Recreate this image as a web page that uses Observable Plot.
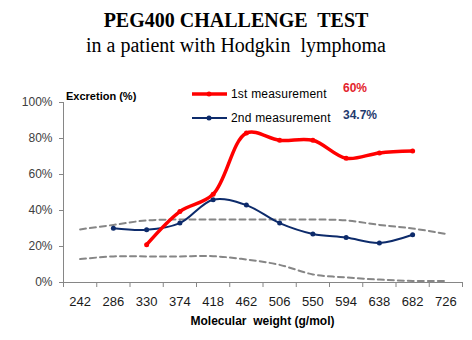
<!DOCTYPE html>
<html>
<head>
<meta charset="utf-8">
<script src="https://cdn.jsdelivr.net/npm/d3@7"></script>
<script src="https://cdn.jsdelivr.net/npm/@observablehq/plot@0.6"></script>
<style>
  html, body { margin: 0; padding: 0; background: #fff; }
  #wrap { position: relative; width: 472px; height: 340px; overflow: hidden; font-family: "Liberation Sans", Arial, sans-serif; }
  .title { position: absolute; left: 0; width: 472px; text-align: center; font-family: "Liberation Serif", "Times New Roman", serif; font-size: 20px; color: #000; white-space: pre; line-height: 24px; }
  .abs { position: absolute; white-space: pre; line-height: 14px; }
  #chart { position: absolute; left: 0; top: 60px; }
</style>
</head>
<body>
<div id="wrap">
  <div class="title" style="top:8px;font-weight:bold;">PEG400 CHALLENGE  TEST</div>
  <div class="title" style="top:33px;">in a patient with Hodgkin  lymphoma</div>
  <div id="chart"></div>
  <div class="abs" id="ylabel" style="left:66px;top:89px;font-size:11px;font-weight:bold;color:#000;"></div>
  <div class="abs" id="xlabel" style="left:63px;width:399px;text-align:center;top:314px;font-size:12px;font-weight:bold;color:#000;"></div>
  <svg class="abs" style="left:190px;top:86px;" width="40" height="40">
    <line x1="2" x2="37" y1="8" y2="8" stroke="#FF0000" stroke-width="3.5"/>
    <circle cx="19" cy="8" r="2.5" fill="#FF0000"/>
    <line x1="2" x2="37" y1="32" y2="32" stroke="#0D2B6B" stroke-width="2"/>
    <circle cx="19" cy="32" r="2.5" fill="#0D2B6B"/>
  </svg>
  <div class="abs" id="leg1" style="left:231px;top:87px;font-size:12px;color:#000;letter-spacing:0.2px;"></div>
  <div class="abs" id="leg2" style="left:231px;top:111px;font-size:12px;color:#000;letter-spacing:0.2px;"></div>
  <div class="abs" id="val1" style="left:343px;top:81px;font-size:12px;font-weight:bold;color:#E3232C;"></div>
  <div class="abs" id="val2" style="left:343px;top:108px;font-size:12px;font-weight:bold;color:#1F3A6E;"></div>
</div>
<script>
// ---- data ----
const categories = [242, 286, 330, 374, 418, 462, 506, 550, 594, 638, 682, 726];
const firstX = [330, 374, 418, 462, 506, 550, 594, 638, 682];
const firstY = [0.21, 0.394, 0.49, 0.83, 0.79, 0.79, 0.69, 0.72, 0.73];
const secondX = [286, 330, 374, 418, 462, 506, 550, 594, 638, 682];
const secondY = [0.302, 0.293, 0.33, 0.46, 0.43, 0.33, 0.27, 0.25, 0.22, 0.265];
const upperRef = [0.295, 0.32, 0.345, 0.35, 0.35, 0.35, 0.35, 0.35, 0.345, 0.32, 0.30, 0.27];
const lowerRef = [0.13, 0.145, 0.145, 0.145, 0.146, 0.128, 0.098, 0.045, 0.028, 0.016, 0.009, 0.008];
const yTicks = [0, 0.2, 0.4, 0.6, 0.8, 1];
const yTickLabels = ["0%", "20%", "40%", "60%", "80%", "100%"];
const seriesNames = ["1st measurement", "2nd measurement"];
const seriesValues = ["60%", "34.7%"];
const yTitle = "Excretion (%)";
const xTitle = "Molecular  weight (g/mol)";

document.getElementById("ylabel").textContent = yTitle;
document.getElementById("xlabel").textContent = xTitle;
document.getElementById("leg1").textContent = seriesNames[0];
document.getElementById("leg2").textContent = seriesNames[1];
document.getElementById("val1").textContent = seriesValues[0];
document.getElementById("val2").textContent = seriesValues[1];

const step = categories[1] - categories[0];
const x0 = categories[0] - step / 2;
const x1 = categories[categories.length - 1] + step / 2;
const boundaries = d3.range(categories.length + 1).map(i => x0 + i * step);

const first = firstX.map((x, i) => ({x, y: firstY[i]}));
const second = secondX.map((x, i) => ({x, y: secondY[i]}));
const upper = categories.map((x, i) => ({x, y: upperRef[i]}));
const lower = categories.map((x, i) => ({x, y: lowerRef[i]}));

const gray = "#868686";
const red = "#FF0000";
const navy = "#0D2B6B";

const chart = Plot.plot({
  width: 472,
  height: 280,
  marginTop: 42,
  marginBottom: 58,
  marginLeft: 63,
  marginRight: 10,
  style: {fontFamily: "'Liberation Sans', Arial, sans-serif", background: "transparent", overflow: "visible"},
  x: {type: "linear", domain: [x0, x1]},
  y: {domain: [0, 1]},
  marks: [
    Plot.axisY({ticks: yTicks, tickFormat: d => yTickLabels[yTicks.indexOf(d)], tickSize: 4, tickPadding: 7, fontSize: 12, label: null, stroke: gray, fill: "#404040"}),
    Plot.axisX({ticks: boundaries, tickFormat: () => "", tickSize: 5, label: null, stroke: gray}),
    Plot.axisX({ticks: categories, tickFormat: d => String(d), tickSize: 0, tickPadding: 14, fontSize: 13, label: null, fill: "#1a1a1a"}),
    Plot.ruleX([x0], {stroke: gray, strokeWidth: 1}),
    Plot.ruleY([0], {stroke: gray, strokeWidth: 1}),
    Plot.line(upper, {x: "x", y: "y", stroke: gray, strokeWidth: 2, strokeDasharray: "6,4", curve: "catmull-rom"}),
    Plot.line(lower, {x: "x", y: "y", stroke: gray, strokeWidth: 2, strokeDasharray: "6,4", curve: "catmull-rom"}),
    Plot.line(second, {x: "x", y: "y", stroke: navy, strokeWidth: 2, curve: "catmull-rom"}),
    Plot.dot(second, {x: "x", y: "y", fill: navy, r: 2.5}),
    Plot.line(first, {x: "x", y: "y", stroke: red, strokeWidth: 3.5, curve: "catmull-rom"}),
    Plot.dot(first, {x: "x", y: "y", fill: red, r: 2.5})
  ]
});
document.getElementById("chart").appendChild(chart);
</script>
</body>
</html>
